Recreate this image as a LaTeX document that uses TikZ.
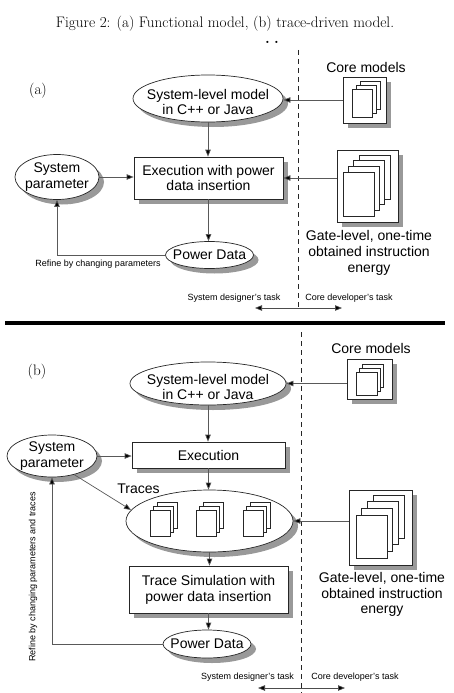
\documentclass[tikz,border=0pt]{standalone}
\usepackage{fontspec}
\setsansfont{Liberation Sans}
\usetikzlibrary{shapes.geometric,arrows.meta,shadows}
\begin{document}
\begin{tikzpicture}[x=1pt,y=-1pt,
  lbl/.style={font=\sffamily\fontsize{14}{15.8}\selectfont, align=center, inner sep=0pt},
  small/.style={font=\sffamily\fontsize{9}{10}\selectfont, inner sep=0pt},
  serif/.style={font=\fontsize{15.2}{18}\selectfont, inner sep=0pt, anchor=base},
  dshadow/.style={drop shadow={shadow xshift=5pt, shadow yshift=-5pt, fill=black!40, opacity=1}},
  oval/.style={ellipse, draw=black!85, fill=white, inner sep=0pt, dshadow, line width=0.7pt},
  boxn/.style={rectangle, draw=black!85, fill=white, inner sep=0pt, dshadow, lbl, line width=0.7pt},
  conn/.style={draw=black!65, line width=0.7pt, -{Triangle[length=7pt,width=5.5pt,fill=black]}},
  dbl/.style={draw=black!70, line width=0.7pt, {Triangle[length=7pt,width=5.5pt,fill=black]}-{Triangle[length=7pt,width=5.5pt,fill=black]}},
  dashline/.style={draw=black!85, line width=0.7pt, dash pattern=on 5pt off 4pt},
  pg/.style={draw=black!85, fill=white, line width=0.5pt},
]
\useasboundingbox (0,0) rectangle (453,693);

% ---------- title ----------
\node[serif] (title) at (225,28) {Figure 2: (a) Functional model, (b) trace-driven model.};
\node[serif] (dots) at (272,44) {\bfseries .\hspace{4pt}.};

% ================= (a) =================
\node[serif] (la) at (38,94) {(a)};
\coordinate (da1) at (298,50);
\coordinate (da2) at (298,308);
\draw[dashline] (da1) -- (da2);

% core models
\node[lbl, anchor=base] (acoret) at (366,72) {Core models};
\node[boxn, minimum width=43pt, minimum height=46pt] (acore) at (364.5,100) {};
\foreach \i in {2,1,0} \draw[pg] (352+4*\i, 89-4*\i) rectangle ++(20,28);

% system-level model
\node[oval, minimum width=150pt, minimum height=47pt,
  label={[lbl, yshift=-3.5pt]center:{System-level model\\in C++ or Java}}] (asys) at (208,98.5) {};

% execution
\node[boxn, minimum width=149pt, minimum height=42pt] (aexec) at (208.5,178) {Execution with power\\data insertion};

% system parameter
\node[oval, minimum width=84pt, minimum height=45pt,
  label={[lbl]center:{System\\parameter}}] (apar) at (57,177) {};

% gate-level box
\node[boxn, minimum width=61pt, minimum height=72pt] (agate) at (367.5,186) {};
\foreach \i in {3,2,1,0} \draw[pg] (343+5.3*\i, 172-5.7*\i) rectangle ++(31,44);
\node[lbl] (agatet) at (369,253) {Gate-level, one-time\\obtained instruction\\energy};

% power data
\node[oval, minimum width=88pt, minimum height=27pt,
  label={[lbl]center:{Power Data}}] (apow) at (209.5,255) {};

% connectors (a)
\draw[conn] (acore.west) -- (acore.west -| asys.east);
\draw[conn] (asys.south) -- (asys.south |- aexec.north);
\draw[conn] (apar.east) -- (apar.east -| aexec.west);
\draw[conn] (agate.west |- aexec.east) -- (aexec.east);
\draw[conn] (aexec.south) -- (aexec.south |- apow.north);
\draw[conn] (apow.west) -| (apar.south);
\node[small] (arefine) at (98,264) {Refine by changing parameters};

% tasks (a)
\node[small] (asd) at (234,298) {System designer's task};
\node[small] (acd) at (349,298) {Core developer's task};
\coordinate (aa1) at (255,308);
\coordinate (aa2) at (342,308);
\draw[dbl] (aa1) -- (aa2);

% separator
\coordinate (s1) at (5,323);
\coordinate (s2) at (445,323);
\draw[line width=3.3pt] (s1) -- (s2);

% ================= (b) =================
\node[serif] (lb) at (37,375) {(b)};
\coordinate (db1) at (301,332);
\coordinate (db2) at (301,693);
\draw[dashline] (db1) -- (db2);

% core models
\node[lbl, anchor=base] (bcoret) at (371,353) {Core models};
\node[boxn, minimum width=45pt, minimum height=40pt] (bcore) at (369.5,379) {};
\foreach \i in {2,1,0} \draw[pg] (356+3*\i, 372-4*\i) rectangle ++(21,23);

% system-level model
\node[oval, minimum width=156pt, minimum height=43pt,
  label={[lbl, yshift=-3.5pt]center:{System-level model\\in C++ or Java}}] (bsys) at (208,383.5) {};

% execution
\node[boxn, minimum width=153pt, minimum height=26pt] (bexec) at (208.5,455) {Execution};

% system parameter
\node[oval, minimum width=90pt, minimum height=42pt,
  label={[lbl]center:{System\\parameter}}] (bpar) at (52,456) {};

% traces
\node[lbl, anchor=base] (btrl) at (138.5,493) {Traces};
\node[oval, minimum width=167pt, minimum height=62pt] (btr) at (209.5,521) {};
\foreach \x in {150,196,243} {
  \foreach \i in {2,1,0} \draw[pg] (\x+3.5*\i, 510-4*\i) rectangle ++(20,26);
}

% gate-level box
\node[boxn, minimum width=63pt, minimum height=75pt] (bgate) at (380.5,527.5) {};
\foreach \i in {3,2,1,0} \draw[pg] (356+5.7*\i, 515-6.7*\i) rectangle ++(31,43);
\node[lbl] (bgatet) at (382,594.5) {Gate-level, one-time\\obtained instruction\\energy};

% trace simulation
\node[boxn, minimum width=159pt, minimum height=47pt] (bsim) at (208.5,589.5) {Trace Simulation with\\power data insertion};

% power data
\node[oval, minimum width=88pt, minimum height=28pt,
  label={[lbl]center:{Power Data}}] (bpow) at (207,644) {};

% connectors (b)
\draw[conn] (bcore.west |- bsys.east) -- (bsys.east);
\draw[conn] (bsys.south) -- (bsys.south |- bexec.north);
\draw[conn] (bpar.east) -- (bpar.east -| bexec.west);
\draw[conn] (bexec.south) -- (bexec.south |- btr.north);
\draw[conn] (bpar.-40) -- (btr.172);
\draw[conn] (bgate.west |- btr.east) -- (btr.east);
\draw[conn] (btr.south) -- (btr.south |- bsim.north);
\draw[conn] (bsim.south) -- (bsim.south |- bpow.north);
\draw[conn] (bpow.west) -| (bpar.south);
\node[small, rotate=90] (brefine) at (33,577) {Refine by changing parameters and traces};

% tasks (b)
\node[small] (bsd) at (247.5,677.5) {System designer's task};
\node[small] (bcd) at (355,677.5) {Core developer's task};
\coordinate (ba1) at (258,688);
\coordinate (ba2) at (345,688);
\draw[dbl] (ba1) -- (ba2);
\end{tikzpicture}
\end{document}
